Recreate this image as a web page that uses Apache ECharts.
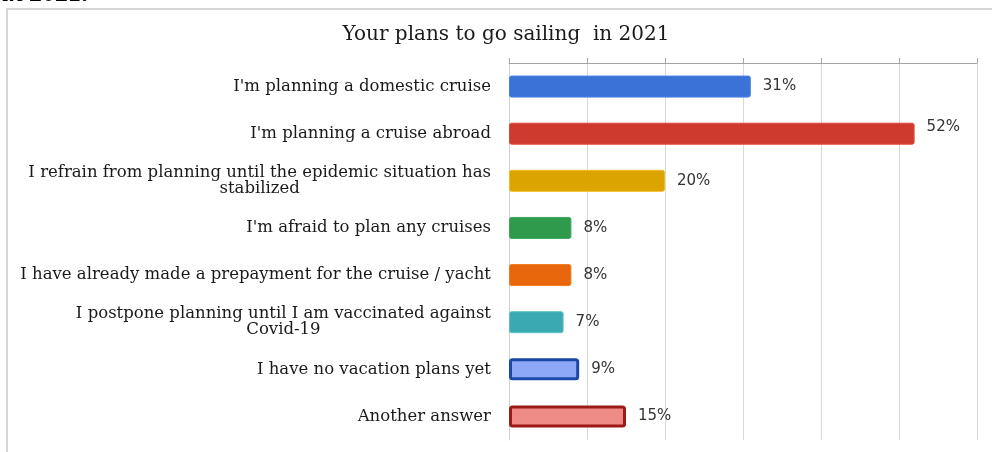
<!DOCTYPE html>
<html>
<head>
<meta charset="utf-8">
<style>
  html, body { margin: 0; padding: 0; background: #fff; }
  #chart { width: 992px; height: 452px; }
</style>
<script src="https://cdn.jsdelivr.net/npm/echarts@6/dist/echarts.min.js"></script>
</head>
<body>
<div id="chart"></div>
<script>
// Survey answers, listed top to bottom
var categories = [
  "I'm planning a domestic cruise",
  "I'm planning a cruise abroad",
  "I refrain from planning until the epidemic situation has\nstabilized",
  "I'm afraid to plan any cruises",
  "I have already made a prepayment for the cruise / yacht",
  "I postpone planning until I am vaccinated against\nCovid-19",
  "I have no vacation plans yet",
  "Another answer"
];
var shares = [31, 52, 20, 8, 8, 7, 9, 15];
var fillColors = ['#3b72d8', '#cf3a2e', '#dca400', '#2f9a4b', '#e8660c', '#3ba9b1', '#8da8f6', '#ef8b87'];
var edgeColors = ['#4a80e2', '#e2473a', '#f4bd1c', '#3aa857', '#f57a1c', '#58c2ca', '#1a48a8', '#9c1b15'];
var edgeWidths = [1, 1, 1, 1, 1, 1, 3, 3];
var xTicks = { min: 0, max: 60, step: 10 };

var chart = echarts.init(document.getElementById('chart'), null, { renderer: 'canvas' });

var barData = shares.map(function (v, i) {
  var item = {
    value: v,
    itemStyle: {
      color: fillColors[i],
      borderColor: edgeColors[i],
      borderWidth: edgeWidths[i],
      borderRadius: 2
    }
  };
  if (v === 52) {
    item.label = { offset: [0, -7] };
  }
  return item;
});

chart.setOption({
  animation: false,
  backgroundColor: '#ffffff',
  title: {
    text: 'Your plans to go sailing  in 2021',
    left: 501,
    top: 20,
    textAlign: 'center',
    textStyle: {
      fontFamily: 'DejaVu Serif',
      fontWeight: 'normal',
      fontSize: 20,
      color: '#1a1a1a'
    }
  },
  graphic: [
    {
      type: 'rect',
      shape: { x: 7, y: 9, width: 1000, height: 460 },
      style: { fill: 'none', stroke: '#d6d6d6', lineWidth: 2 },
      silent: true,
      z: -10
    },
    {
      type: 'text',
      left: 2,
      top: -19,
      style: {
        text: 'in 2021.',
        font: 'italic bold 26px "Liberation Serif"',
        fill: '#000'
      },
      silent: true
    }
  ],
  grid: {
    left: 509,
    right: 15,
    top: 63,
    bottom: 12,
    containLabel: false
  },
  xAxis: {
    type: 'value',
    position: 'top',
    min: xTicks.min,
    max: xTicks.max,
    interval: xTicks.step,
    axisLine: { show: true, lineStyle: { color: '#a6a6a6', width: 1 } },
    axisTick: { show: true, length: 5, lineStyle: { color: '#a6a6a6' } },
    axisLabel: { show: false },
    splitLine: { show: true, lineStyle: { color: '#d9d9d9', width: 1 } }
  },
  yAxis: {
    type: 'category',
    data: categories,
    inverse: true,
    axisLine: { show: true, lineStyle: { color: '#cfcfcf' } },
    axisTick: { show: false },
    axisLabel: {
      margin: 18,
      align: 'right',
      fontFamily: 'DejaVu Serif',
      fontSize: 16.5,
      color: '#1a1a1a',
      lineHeight: 16,
      formatter: function (s) {
        return s.split('\n').map(function (l) { return '{c|' + l + '}'; }).join('\n');
      },
      rich: {
        c: {
          align: 'center',
          fontFamily: 'DejaVu Serif',
          fontSize: 16.5,
          lineHeight: 16,
          color: '#1a1a1a'
        }
      }
    }
  },
  series: [
    {
      type: 'bar',
      data: barData,
      barWidth: 22,
      label: {
        show: true,
        position: 'right',
        distance: 12,
        formatter: '{c}%',
        fontFamily: 'DejaVu Sans',
        fontSize: 15,
        color: '#333333'
      }
    }
  ]
});
</script>
</body>
</html>
